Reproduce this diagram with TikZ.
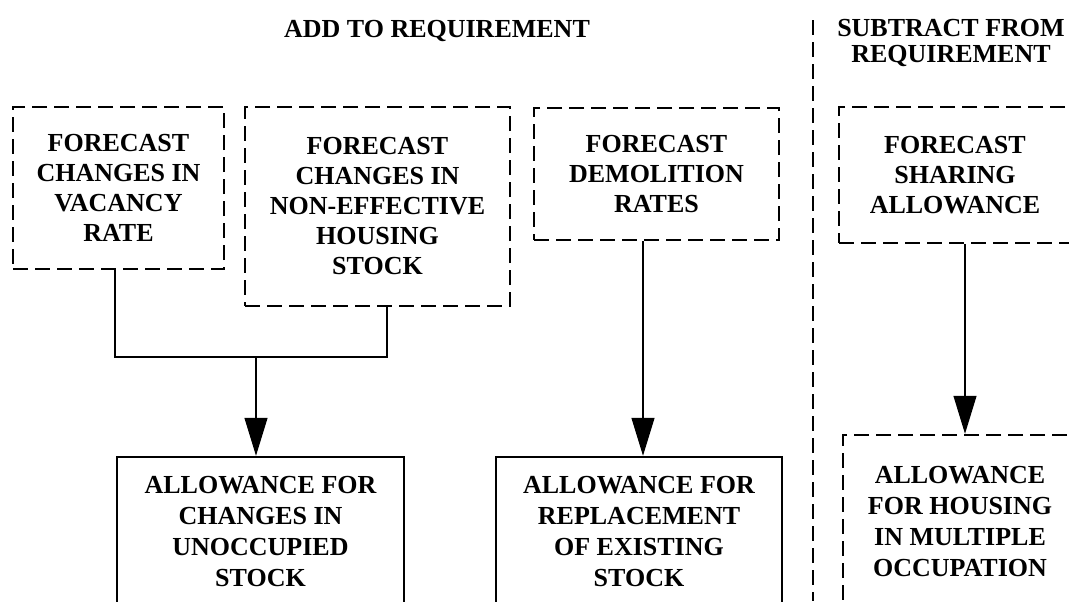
\documentclass[tikz,border=0pt]{standalone}
\usepackage{fontspec}
\setmainfont{Liberation Serif}
\usetikzlibrary{arrows.meta}

\begin{document}
\begin{tikzpicture}[x=0.75pt,y=-0.75pt,
  box/.style={draw,line width=1.7pt,align=center,inner sep=0pt,
    font=\fontsize{19.5}{22.5}\selectfont\bfseries},
  fcast/.style={box,dash pattern=on 11.25pt off 5.25pt},
  allow/.style={box,font=\fontsize{19.5}{23.25}\selectfont\bfseries},
  flow/.style={line width=1.7pt,-{Triangle[length=28.5pt,width=17pt]}},
  head/.style={align=center,inner sep=0pt,font=\fontsize{19.5}{19.5}\selectfont\bfseries}]
  \useasboundingbox (0,0) rectangle (1069,601);
  \clip (0,0) rectangle (1069,601);
  % headings and divider
  \node[head,anchor=base] (add) at (437,37) {ADD TO REQUIREMENT};
  \node[head,anchor=north] (sub) at (951,19) {SUBTRACT FROM\\REQUIREMENT};
  \draw[line width=1.2pt,dash pattern=on 11.25pt off 5.25pt] (813,20) -- (813,601);
  % forecasts
  \node[fcast,minimum width=158.25pt,minimum height=121.5pt] (vac) at (118.5,188)
    {FORECAST\\CHANGES IN\\VACANCY\\RATE};
  \node[fcast,minimum width=198.75pt,minimum height=149.25pt] (neff) at (377.5,206.5)
    {FORECAST\\CHANGES IN\\NON-EFFECTIVE\\HOUSING\\STOCK};
  \node[fcast,minimum width=183.75pt,minimum height=99pt] (demo) at (656.5,174)
    {FORECAST\\DEMOLITION\\RATES};
  \node[fcast,minimum width=174pt,minimum height=102pt] (share) at (955,175)
    {FORECAST\\SHARING\\ALLOWANCE};
  % allowances
  \node[allow,minimum width=215.25pt,minimum height=111.75pt] (unocc) at (260.5,531.5)
    {ALLOWANCE FOR\\CHANGES IN\\UNOCCUPIED\\STOCK};
  \node[allow,minimum width=214.5pt,minimum height=111.75pt] (repl) at (639,531.5)
    {ALLOWANCE FOR\\REPLACEMENT\\OF EXISTING\\STOCK};
  \node[allow,dash pattern=on 11.25pt off 5.25pt,minimum width=175.5pt,minimum height=130.5pt] (multi) at (960,522)
    {ALLOWANCE\\FOR HOUSING\\IN MULTIPLE\\OCCUPATION};
  % connectors
  \coordinate (join) at (256,357);
  \coordinate (replin) at ([xshift=3pt]repl.north);
  \coordinate (multin) at ([xshift=3.75pt]multi.north);
  \draw[line width=1.7pt] ([xshift=-2.6pt]vac.south) |- (join) -| ([xshift=7.1pt]neff.south);
  \draw[flow] (join) -- (join |- unocc.north);
  \draw[flow] (demo.south -| replin) -- (replin);
  \draw[flow] (share.south -| multin) -- (multin);
\end{tikzpicture}
\end{document}
